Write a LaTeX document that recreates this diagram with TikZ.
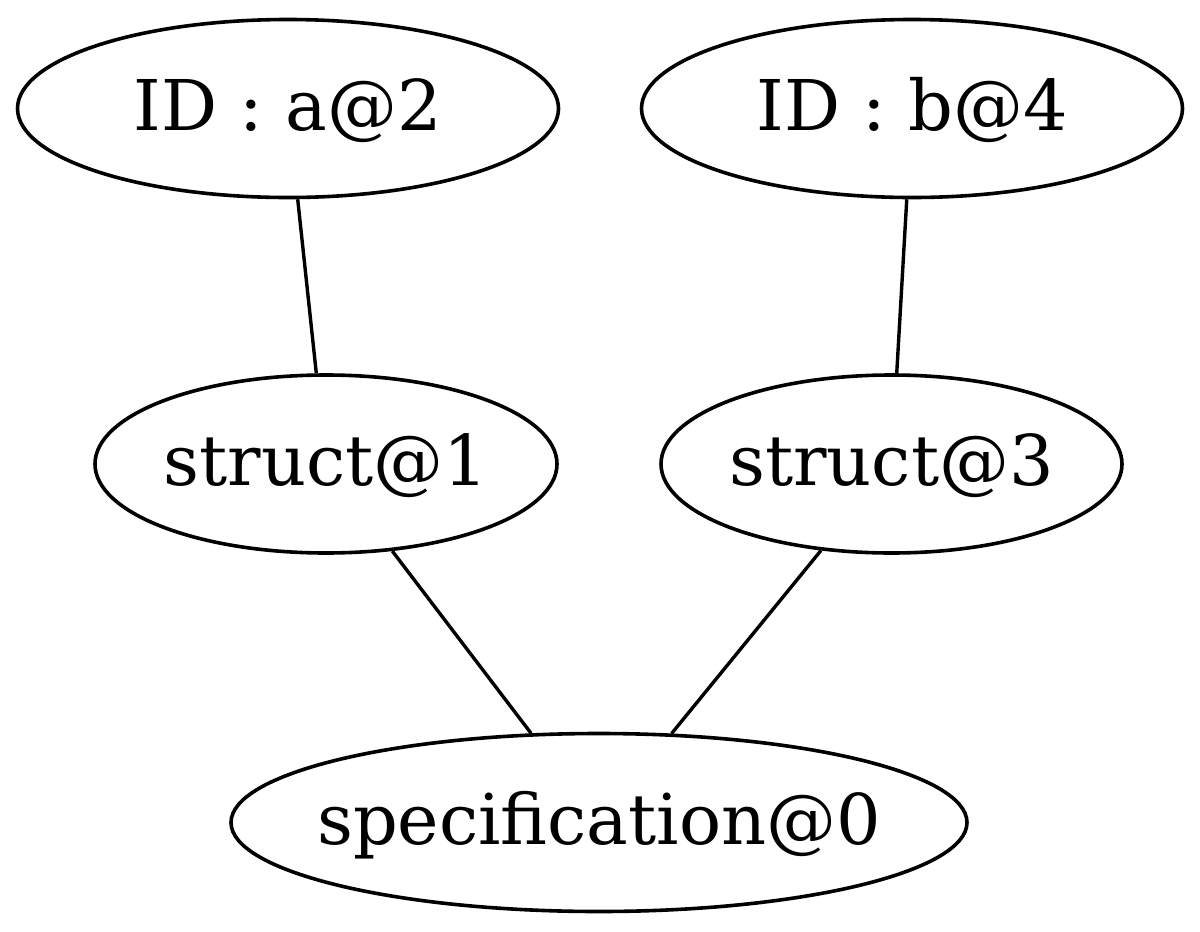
\documentclass[tikz,border=0pt]{standalone}
\usepackage{fontspec}
\setmainfont{DejaVu Serif}
\usetikzlibrary{shapes.geometric}

\tikzset{
  gnode/.style={ellipse, draw, line width=3.6pt, inner sep=0pt,
    minimum height=178pt, text height=43pt, text depth=0pt,
    font=\fontsize{70}{84}\selectfont},
  gedge/.style={line width=3.4pt}
}
% node text is set in a zero-width box so the given minimum size fixes the ellipse
\newcommand{\lbl}[1]{\makebox[0pt]{#1}}

\begin{document}
\begin{tikzpicture}[x=1pt, y=-1pt]
  \useasboundingbox (0,0) rectangle (1200,932);

  \node[gnode, minimum width=541pt] (ida) at (288,108.5) {\lbl{ID : a@2}};
  \node[gnode, minimum width=541pt] (idb) at (912,108.5) {\lbl{ID : b@4}};
  \node[gnode, minimum width=462pt] (s1)  at (326,464)   {\lbl{struct@1}};
  \node[gnode, minimum width=461pt] (s3)  at (891.5,464) {\lbl{struct@3}};
  \node[gnode, minimum width=736pt] (spec) at (599,822.5) {\lbl{specification@0}};

  \draw[gedge] (ida) -- (s1);
  \draw[gedge] (idb) -- (s3);
  \draw[gedge] (s1) -- (spec);
  \draw[gedge] (s3) -- (spec);
\end{tikzpicture}
\end{document}
